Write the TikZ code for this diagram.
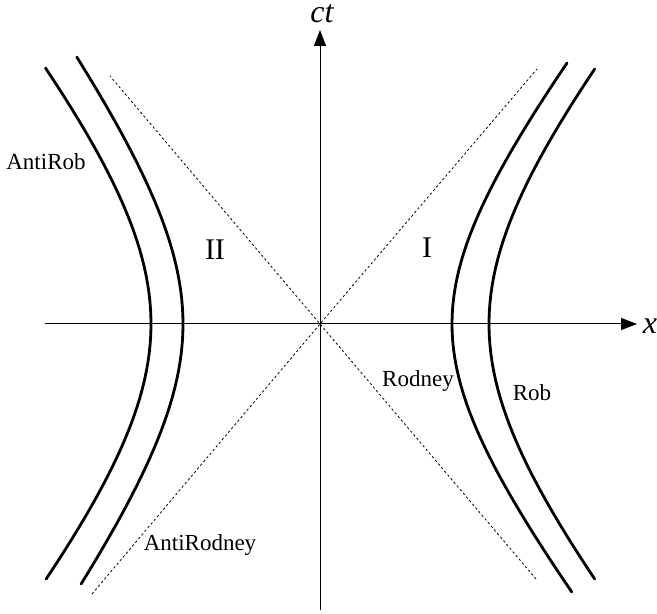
\documentclass[tikz,border=0pt]{standalone}
\usepackage{fontspec}
\setmainfont{Liberation Serif}
\usepackage{tikz}
\usetikzlibrary{arrows.meta,positioning}

\begin{document}
\begin{tikzpicture}[
  x=0.5pt, y=0.5pt,
  axis/.style={line width=0.5pt, -{Triangle[length=8pt,width=6pt]}},
  world/.style={line width=1.4pt, line cap=round},
  cone/.style={line width=0.4pt, dash pattern=on 1.2pt off 1.2pt},
  lbl/.style={font=\fontsize{11.5}{13}\selectfont, inner sep=1pt},
  region/.style={font=\fontsize{15}{17}\selectfont, inner sep=1pt},
  axlbl/.style={font=\fontsize{16}{18}\selectfont\itshape, inner sep=1pt}
]
\useasboundingbox (-320,-290) rectangle (337,324);

\coordinate (o) at (0,0);
\coordinate (xl) at (-275,0);
\coordinate (xr) at (317,0);
\coordinate (tb) at (0,-286);
\coordinate (tt) at (0,294);
\coordinate (ctl) at (-210,248);
\coordinate (ctr) at (217,255);
\coordinate (cbl) at (-228,-270);
\coordinate (cbr) at (216,-255);

% axes
\draw[axis] (xl) -- (xr);
\draw[axis] (tb) -- (tt);
\node[axlbl] (xlab) at (330,-2) {x};
\node[axlbl] (ctlab) at (2,310) {ct};

% light cone
\draw[cone] (cbl) -- (o) -- (ctr);
\draw[cone] (cbr) -- (o) -- (ctl);

% world lines
\draw[world] plot[domain=-268:261, samples=60, variable=\t] ({132*sqrt(1+(\t/165)^2)}, \t);
\draw[world] plot[domain=-255:255, samples=60, variable=\t] ({169*sqrt(1+(\t/199)^2)}, \t);
\draw[world] plot[domain=-260:267, samples=60, variable=\t] ({-137*sqrt(1+(\t/182)^2)}, \t);
\draw[world] plot[domain=-255:256, samples=60, variable=\t] ({-169*sqrt(1+(\t/200)^2)}, \t);

% labels
\node[lbl] (antirob) at (-274,162) {AntiRob};
\node[lbl] (rodney) at (98,-57) {Rodney};
\node[lbl] (rob) at (212,-69) {Rob};
\node[lbl] (antirodney) at (-120,-221) {AntiRodney};
\node[region] (one) at (107,76) {I};
\node[region] (two) at (-105,74) {II};
\end{tikzpicture}
\end{document}
